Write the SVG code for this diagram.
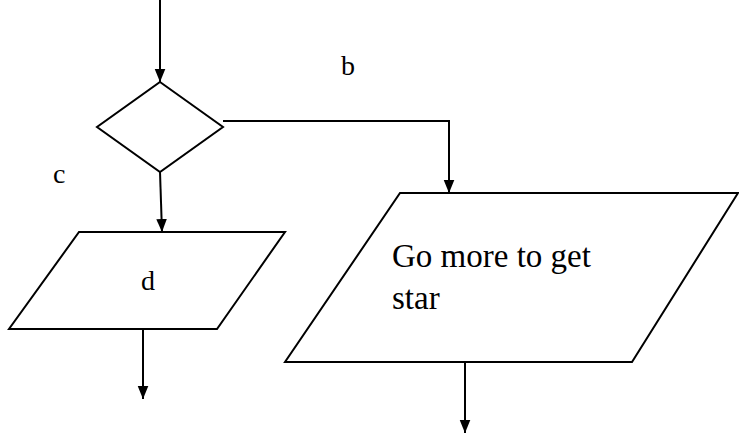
<svg xmlns="http://www.w3.org/2000/svg" width="739" height="435" viewBox="0 0 739 435">
<style>
.s{fill:#fff;stroke:#000;stroke-width:2}
.c{fill:none;stroke:#000;stroke-width:2}
text{font-family:'Liberation Serif','Times New Roman','DejaVu Serif',serif;fill:#000}
</style>
<defs>
<marker id="ah" markerWidth="13" markerHeight="16" refX="16" refY="6.5" orient="auto" markerUnits="userSpaceOnUse" viewBox="0 0 16 13">
<path d="M0,0 L16,6.5 L0,13 Z" fill="#000"/>
</marker>
</defs>
<rect width="739" height="435" fill="#fff"/>
<g id="connectors">
<line class="c" x1="160" y1="0" x2="160" y2="82" marker-end="url(#ah)"/>
<polyline class="c" points="223,121 449,121 449,193" marker-end="url(#ah)"/>
<line class="c" x1="160" y1="172" x2="162" y2="232" marker-end="url(#ah)"/>
<line class="c" x1="143" y1="329" x2="143" y2="399" marker-end="url(#ah)"/>
<line class="c" x1="465" y1="362" x2="465" y2="433" marker-end="url(#ah)"/>
</g>
<g id="decision">
<polygon class="s" points="160,82 223,127 160,172 97,127"/>
</g>
<g id="node-d">
<polygon class="s" points="79,232 285,232 217,329 9,329"/>
<text x="148" y="290" font-size="28" text-anchor="middle">d</text>
</g>
<g id="node-star">
<polygon class="s" points="400,193 738,193 632,362 285,362"/>
<text x="392" y="267" font-size="33">Go more to get</text>
<text x="392" y="309" font-size="33">star</text>
</g>
<g id="labels">
<text x="341" y="75" font-size="28">b</text>
<text x="53" y="183" font-size="28">c</text>
</g>
</svg>
